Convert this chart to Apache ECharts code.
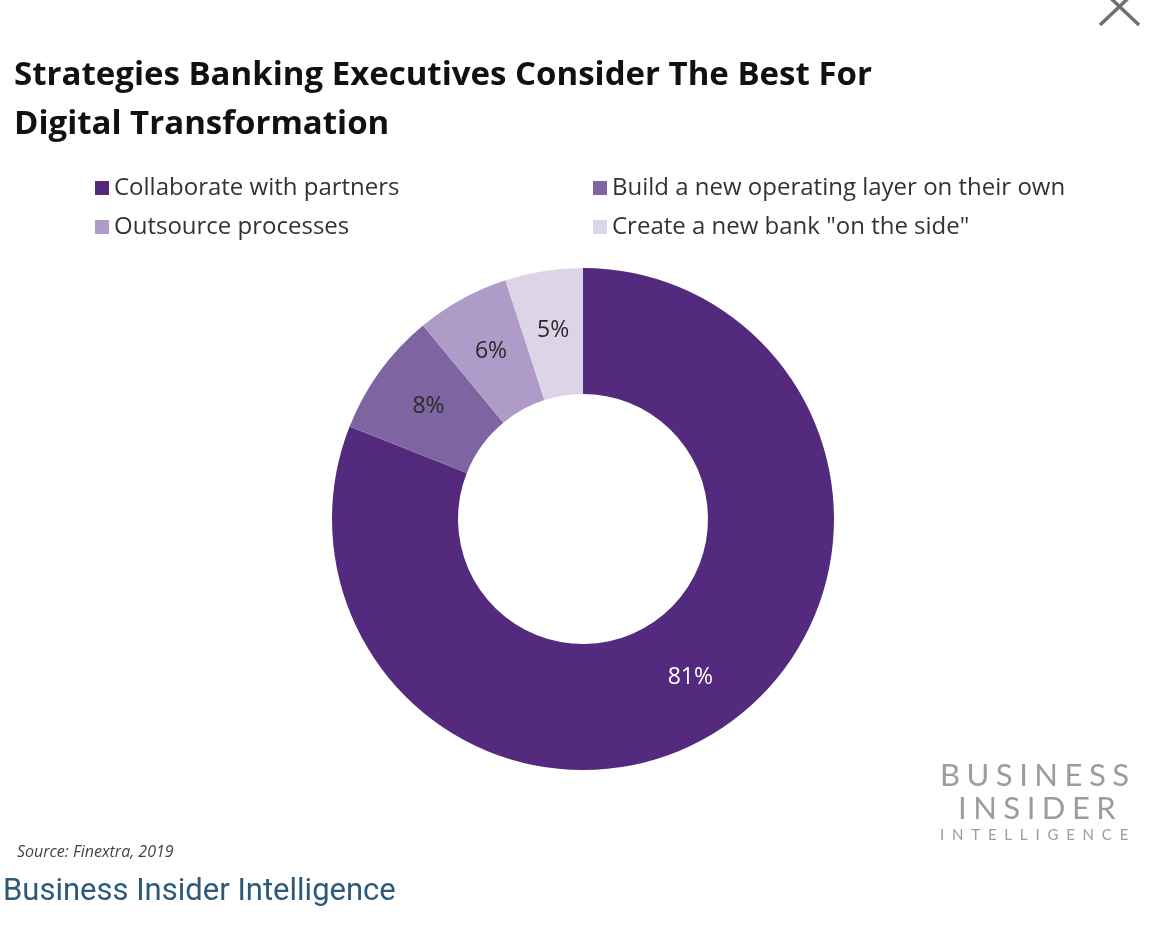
<!DOCTYPE html>
<html>
<head>
<meta charset="utf-8">
<script src="https://cdn.jsdelivr.net/npm/echarts@6/dist/echarts.min.js"></script>
<style>
  html, body { margin: 0; padding: 0; background: #fff; }
  #main { width: 1160px; height: 932px; position: relative; }
  .wm { position: absolute; font-family: Lato, "Open Sans", sans-serif; color: #9c9c9c; font-weight: 400; white-space: nowrap; }
</style>
</head>
<body>
<div id="main"></div>
<div class="wm" style="left:940px;top:755px;font-size:31px;letter-spacing:6.5px;">BUSINESS</div>
<div class="wm" style="left:958px;top:788px;font-size:31px;letter-spacing:6.5px;">INSIDER</div>
<div class="wm" style="left:940px;top:825px;font-size:15px;letter-spacing:7.8px;">INTELLIGENCE</div>
<script>
// categories and values
var categories = ['Collaborate with partners', 'Build a new operating layer on their own',
	'Outsource processes', 'Create a new bank "on the side"'];
var shares = [81, 8, 6, 5];
var colors = ['#542a7f', '#7f64a2', '#ae9bc8', '#dcd4e7'];
var labelColors = ['#ffffff', '#2a2a2a', '#2a2a2a', '#2a2a2a'];

var chart = echarts.init(document.getElementById('main'));

var pieData = [];
for (var i = 0; i < categories.length; i++) {
	pieData.push({
		name : categories[i],
		value : shares[i],
		itemStyle : { color : colors[i] },
		label : { color : labelColors[i] }
	});
}

var legendText = { fontFamily : '"Open Sans", sans-serif', fontSize : 24, lineHeight : 24, color : '#333' };

chart.setOption({
	animation : false,
	title : {
		text : 'Strategies Banking Executives Consider The Best For\nDigital Transformation',
		left : 9,
		top : 46,
		textStyle : {
			fontFamily : '"Open Sans", sans-serif',
			fontWeight : 'bold',
			fontSize : 33,
			lineHeight : 49,
			color : '#111'
		}
	},
	legend : [ {
		orient : 'vertical',
		left : 90,
		top : 171,
		itemWidth : 14,
		itemHeight : 14,
		itemGap : 15,
		icon : 'rect',
		data : [ categories[0], categories[2] ],
		textStyle : legendText
	}, {
		orient : 'vertical',
		left : 588,
		top : 171,
		itemWidth : 14,
		itemHeight : 14,
		itemGap : 15,
		icon : 'rect',
		data : [ categories[1], categories[3] ],
		textStyle : legendText
	} ],
	series : [ {
		type : 'pie',
		center : [ 583, 519 ],
		radius : [ 125, 251 ],
		startAngle : 90,
		clockwise : true,
		label : {
			show : true,
			position : 'inside',
			formatter : '{c}%',
			fontFamily : '"Open Sans", sans-serif',
			fontSize : 23
		},
		labelLine : { show : false },
		emphasis : { disabled : true },
		data : pieData
	} ],
	graphic : [ {
		type : 'text',
		left : 17,
		top : 844,
		style : {
			text : 'Source: Finextra, 2019',
			font : 'italic 16px "Open Sans", sans-serif',
			fill : '#444'
		}
	}, {
		type : 'text',
		left : 3,
		top : 877,
		style : {
			text : 'Business Insider Intelligence',
			font : '31px Roboto, sans-serif',
			fill : '#2c5a78'
		}
	}, {
		type : 'line',
		shape : { x1 : 1100, y1 : -12, x2 : 1139, y2 : 25 },
		style : { stroke : '#707070', lineWidth : 3.5 }
	}, {
		type : 'line',
		shape : { x1 : 1139, y1 : -12, x2 : 1100, y2 : 25 },
		style : { stroke : '#707070', lineWidth : 3.5 }
	} ]
});
</script>
</body>
</html>
